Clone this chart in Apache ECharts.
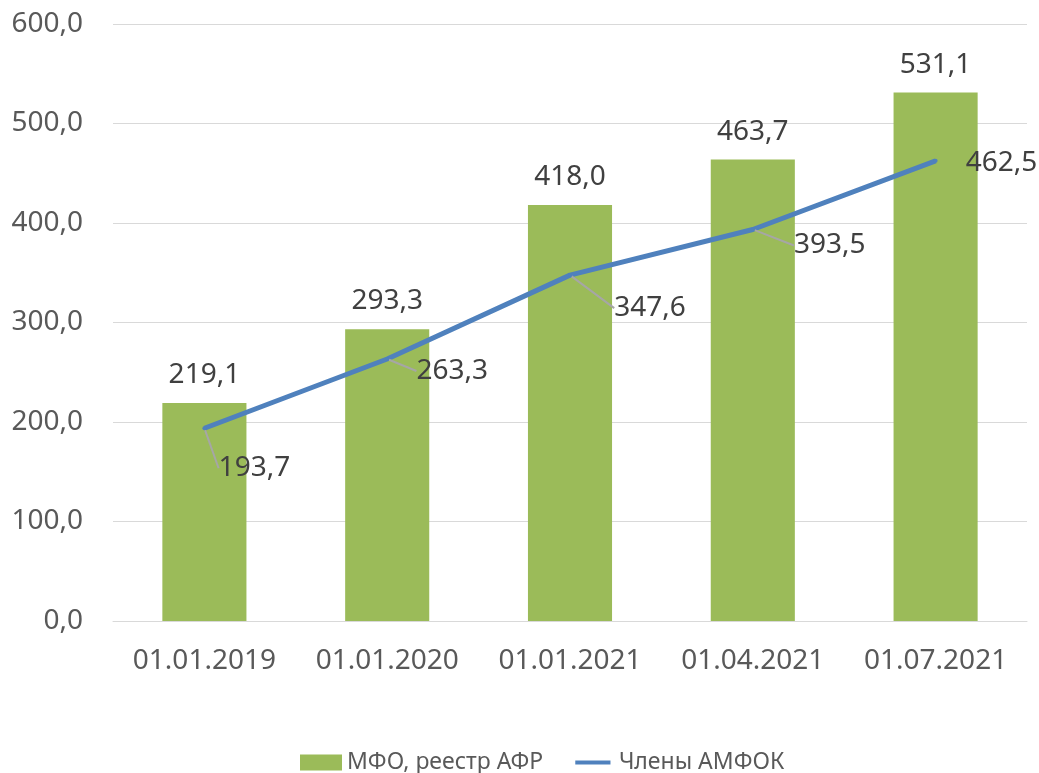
<!DOCTYPE html>
<html>
<head>
<meta charset="utf-8">
<script src="https://cdn.jsdelivr.net/npm/echarts@6/dist/echarts.min.js"></script>
<style>
  html, body { margin: 0; padding: 0; background: #fff; }
  #chart { width: 1039px; height: 773px; }
</style>
</head>
<body>
<div id="chart"></div>
<script>
var categories = ['01.01.2019', '01.01.2020', '01.01.2021', '01.04.2021', '01.07.2021'];
var mfoValues = [219.1, 293.3, 418.0, 463.7, 531.1];
var amfokValues = [193.7, 263.3, 347.6, 393.5, 462.5];
var yTicks = { min: 0, max: 600, interval: 100 };

// where each line label sits relative to its point (px), and whether a leader is drawn
var lineLabelShift = [[50, 40], [65, 12], [80, 33], [77, 16], [66, 2]];
var lineLabelLeader = [true, true, true, true, false];

var font = 'Noto Sans';
function fmt(v) { return v.toFixed(1).replace('.', ','); }

var chart = echarts.init(document.getElementById('chart'));

var lineData = amfokValues.map(function (v, i) {
  return { value: v, labelLine: { show: lineLabelLeader[i] } };
});

var option = {
  animation: false,
  grid: { left: 113, right: 12, top: 24, bottom: 152 },
  legend: {
    top: 746,
    left: 295,
    itemGap: 32,
    itemWidth: 42,
    itemHeight: 16,
    textStyle: { fontFamily: font, fontSize: 23, color: '#595959' },
    data: [
      { name: 'МФО, реестр АФР', icon: 'rect' },
      { name: 'Члены АМФОК',
        icon: 'path://M0,7.5 L44,7.5 L44,12.5 L0,12.5 Z M0,0 L0.01,0 L0,0.01 Z M44,20 L43.99,20 L44,19.99 Z' }
    ]
  },
  xAxis: {
    type: 'category',
    data: categories,
    axisLine: { lineStyle: { color: '#d9d9d9', width: 1 } },
    axisTick: { show: false },
    axisLabel: { fontFamily: font, fontSize: 28, color: '#595959', margin: 26, interval: 0 }
  },
  yAxis: {
    type: 'value',
    min: yTicks.min,
    max: yTicks.max,
    interval: yTicks.interval,
    axisLine: { show: false },
    axisTick: { show: false },
    splitLine: { lineStyle: { color: '#d9d9d9', width: 1 } },
    axisLabel: {
      fontFamily: font, fontSize: 28, color: '#595959', margin: 30,
      formatter: function (v) { return fmt(v); }
    }
  },
  series: [
    {
      name: 'МФО, реестр АФР',
      type: 'bar',
      data: mfoValues,
      barWidth: '46%',
      itemStyle: { color: '#9bbb59' },
      label: {
        show: true,
        position: 'top',
        distance: 14,
        fontFamily: font,
        fontSize: 28,
        color: '#404040',
        formatter: function (p) { return fmt(p.value); }
      }
    },
    {
      name: 'Члены АМФОК',
      type: 'line',
      data: lineData,
      symbol: 'circle',
      symbolSize: 4,
      lineStyle: { color: '#4f81bd', width: 5 },
      itemStyle: { color: '#4f81bd' },
      label: {
        show: true,
        position: 'inside',
        fontFamily: font,
        fontSize: 28,
        color: '#404040',
        formatter: function (p) { return fmt(p.value); }
      },
      labelLine: { show: true, lineStyle: { color: '#a6a6a6', width: 2 } },
      labelLayout: function (params) {
        var s = lineLabelShift[params.dataIndex];
        return { dx: s[0], dy: s[1] };
      }
    }
  ]
};

chart.setOption(option);
</script>
</body>
</html>
